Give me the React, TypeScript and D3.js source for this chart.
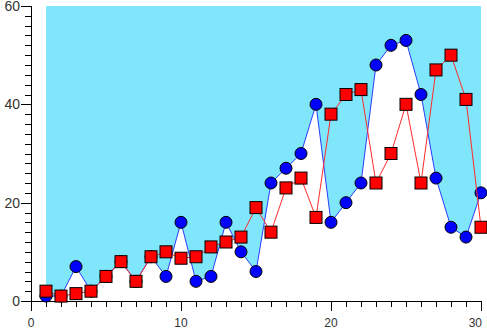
import React, { useEffect, useRef } from 'react';
import * as d3 from 'd3';

const xs = d3.range(1, 31);
const blueValues = [1, 1, 7, 2, 5, 8, 4, 9, 5, 16, 4, 5, 16, 10, 6, 24, 27, 30, 40, 16, 20, 24, 48, 52, 53, 42, 25, 15, 13, 22];
const redValues = [2, 1, 1.5, 2, 5, 8, 4, 9, 10, 8.7, 9, 11, 12, 13, 19, 14, 23, 25, 17, 38, 42, 43, 24, 30, 40, 24, 47, 50, 41, 15];
const xTickLabels = [0, 10, 20, 30];
const yTickLabels = [0, 20, 40, 60];

const App = () => {
  const svgRef = useRef<SVGSVGElement>(null);

  useEffect(() => {
    const svg = d3.select(svgRef.current);
    svg.selectAll('*').remove();

    const width = 487;
    const height = 329;
    const left = 31, right = 481, top = 6, bottom = 301;

    const x = d3.scaleLinear().domain([0, 30]).range([left, right]);
    const y = d3.scaleLinear().domain([0, 60]).range([bottom, top]);

    svg.attr('width', width).attr('height', height);

    const blue = xs.map((d, i) => [d, blueValues[i]] as [number, number]);
    const red = xs.map((d, i) => [d, redValues[i]] as [number, number]);

    // cyan fill from the top of the scale down to the blue series
    const area = d3.area<[number, number]>()
      .x(d => x(d[0]))
      .y0(y(60))
      .y1(d => y(d[1]));
    svg.append('path').datum(blue).attr('d', area).attr('fill', '#80e6fc');

    // axes
    const g = svg.append('g').attr('stroke', '#000').attr('stroke-width', 1);
    g.append('line').attr('x1', left + 0.5).attr('x2', left + 0.5).attr('y1', top).attr('y2', bottom + 0.5);
    g.append('line').attr('x1', left).attr('x2', right + 0.5).attr('y1', bottom + 0.5).attr('y2', bottom + 0.5);

    d3.range(0, 61, 2).forEach(v => {
      const major = v % 20 === 0;
      const yy = Math.round(y(v)) + 0.5;
      g.append('line').attr('x1', left - (major ? 10 : 6)).attr('x2', left).attr('y1', yy).attr('y2', yy);
    });
    d3.range(0, 31, 1).forEach(v => {
      const major = v % 10 === 0;
      const xx = Math.round(x(v)) + 0.5;
      g.append('line').attr('x1', xx).attr('x2', xx).attr('y1', bottom).attr('y2', bottom + (major ? 10 : 6));
    });

    const font = 'Liberation Sans, Arial, sans-serif';
    svg.selectAll('.ylab').data(yTickLabels).join('text')
      .attr('x', left - 11).attr('y', d => y(d) + 5)
      .attr('text-anchor', 'end').attr('font-family', font).attr('font-size', 14).attr('fill', '#333')
      .text(d => d);
    svg.selectAll('.xlab').data(xTickLabels).join('text')
      .attr('x', d => (d === 30 ? right + 1 : x(d))).attr('y', 327)
      .attr('text-anchor', d => (d === 30 ? 'end' : 'middle'))
      .attr('font-family', font).attr('font-size', 12).attr('fill', '#333')
      .text(d => d);

    const line = d3.line<[number, number]>().x(d => x(d[0])).y(d => y(d[1]));

    svg.append('path').datum(blue).attr('d', line).attr('fill', 'none').attr('stroke', '#2a3cff').attr('stroke-width', 1);
    svg.append('g').selectAll('circle').data(blue).join('circle')
      .attr('cx', d => x(d[0])).attr('cy', d => y(d[1])).attr('r', 6)
      .attr('fill', '#0000ff').attr('stroke', '#000').attr('stroke-width', 1);

    svg.append('path').datum(red).attr('d', line).attr('fill', 'none').attr('stroke', '#ff2a2a').attr('stroke-width', 1);
    svg.append('g').selectAll('rect').data(red).join('rect')
      .attr('x', d => x(d[0]) - 6).attr('y', d => y(d[1]) - 6).attr('width', 12).attr('height', 12)
      .attr('fill', '#ff0000').attr('stroke', '#000').attr('stroke-width', 1);
  }, []);

  return <svg ref={svgRef} width={487} height={329} style={{ position: 'absolute', left: 0, top: 0 }} />;
};

export default App;
